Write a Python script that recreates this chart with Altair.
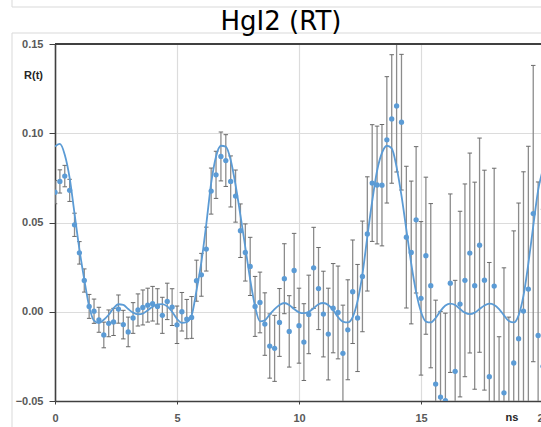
import altair as alt
import pandas as pd

# time grid (ns)
t_ns = [0.0, 0.2, 0.4, 0.6, 0.8, 1.0, 1.2, 1.4, 1.6, 1.8,
        2.0, 2.2, 2.4, 2.6, 2.8, 3.0, 3.2, 3.4, 3.6, 3.8,
        4.0, 4.2, 4.4, 4.6, 4.8, 5.0, 5.2, 5.4, 5.6, 5.8,
        6.0, 6.2, 6.4, 6.6, 6.8, 7.0, 7.2, 7.4, 7.6, 7.8,
        8.0, 8.2, 8.4, 8.6, 8.8, 9.0, 9.2, 9.4, 9.6, 9.8,
        10.0, 10.2, 10.4, 10.6, 10.8, 11.0, 11.2, 11.4, 11.6, 11.8,
        12.0, 12.2, 12.4, 12.6, 12.8, 13.0, 13.2, 13.4, 13.6, 13.8,
        14.0, 14.2, 14.4, 14.6, 14.8, 15.0, 15.2, 15.4, 15.6, 15.8,
        16.0, 16.2, 16.4, 16.6, 16.8, 17.0, 17.2, 17.4, 17.6, 17.8,
        18.0, 18.2, 18.4, 18.6, 18.8, 19.0, 19.2, 19.4, 19.6, 19.8,
        20.0]

# measured R(t)
r_vals = [0.067, 0.073, 0.076, 0.068, 0.0487, 0.033, 0.0175, 0.003, 0.0003, -0.0045,
          -0.013, -0.0065, -0.0057, 0.0015, -0.0072, -0.0113, -0.0035, 0.001, 0.0024, 0.0037,
          0.0045, 0.003, -0.002, 0.0058, 0.0026, -0.0073, 0.0, -0.0041, -0.0032, 0.0174,
          0.0207, 0.0351, 0.0676, 0.0767, 0.087, 0.0847, 0.073, 0.0648, 0.0454, 0.0332,
          0.0254, 0.003, 0.0052, -0.0069, -0.0192, -0.0205, -0.006, 0.0185, -0.011, 0.0231,
          -0.0078, -0.017, -0.0015, 0.0246, 0.013, -0.0013, -0.0125, 0.002, -0.0004, -0.0233,
          -0.0101, 0.0112, -0.0035, 0.0198, 0.0436, 0.0721, 0.071, 0.0709, 0.0963, 0.108,
          0.1153, 0.1062, 0.0418, 0.0332, 0.0515, 0.0075, 0.0314, 0.0146, -0.0405, -0.0478,
          -0.0498, 0.016, -0.0334, 0.0043, 0.0176, 0.0329, 0.0146, 0.0373, 0.0177, -0.0364,
          0.0144, -0.082, -0.0454, -0.075, -0.0287, -0.0151, 0.0004, 0.0127, 0.055, -0.0133,
          -0.0306]

# error bar half-widths
err = [0.0065, 0.0065, 0.006, 0.0062, 0.0065, 0.0063, 0.0065, 0.0067, 0.0068, 0.007,
       0.0072, 0.0075, 0.0076, 0.0079, 0.008, 0.0083, 0.0086, 0.009, 0.0098, 0.0095,
       0.0097, 0.0099, 0.0101, 0.0102, 0.0103, 0.0105, 0.0108, 0.011, 0.0117, 0.0115,
       0.012, 0.0123, 0.0129, 0.0132, 0.0137, 0.0145, 0.0143, 0.0146, 0.015, 0.016,
       0.0163, 0.0168, 0.017, 0.0175, 0.018, 0.0185, 0.019, 0.0196, 0.02, 0.0208,
       0.021, 0.0215, 0.022, 0.0227, 0.023, 0.024, 0.0257, 0.025, 0.026, 0.027,
       0.028, 0.029, 0.03, 0.031, 0.032, 0.0327, 0.033, 0.034, 0.0354, 0.036,
       0.037, 0.038, 0.0397, 0.04, 0.041, 0.043, 0.044, 0.046, 0.047, 0.048,
       0.049, 0.05, 0.051, 0.052, 0.054, 0.056, 0.058, 0.06, 0.0616, 0.064,
       0.066, 0.068, 0.07, 0.072, 0.074, 0.076, 0.078, 0.08, 0.083, 0.086,
       0.088]

# fitted curve
fit_vals = [0.0926, 0.094, 0.088, 0.075, 0.055, 0.035, 0.018, 0.003, -0.005, -0.0063,
            -0.0045, -0.0017, 0.002, 0.0042, 0.0038, 0.0015, -0.0005, -0.0014, -0.001, 0.0008,
            0.0028, 0.0041, 0.0043, 0.003, 0.0, -0.004, -0.0062, -0.0058, -0.002, 0.012,
            0.028, 0.049, 0.072, 0.087, 0.093, 0.0925, 0.085, 0.071, 0.054, 0.036,
            0.018, 0.003, -0.0054, -0.0048, -0.0015, 0.0015, 0.0038, 0.0049, 0.0038, 0.0015,
            -0.0003, -0.0008, 0.0, 0.002, 0.0042, 0.0049, 0.0038, 0.001, -0.003, -0.0055,
            -0.006, -0.003, 0.006, 0.021, 0.042, 0.062, 0.079, 0.089, 0.093, 0.0915,
            0.081, 0.065, 0.046, 0.027, 0.011, 0.0, -0.0055, -0.006, -0.0035, 0.0005,
            0.0035, 0.0046, 0.0038, 0.0015, -0.0005, -0.0013, -0.0005, 0.0015, 0.0035, 0.0045,
            0.0038, 0.0015, -0.002, -0.0052, -0.006, -0.002, 0.009, 0.027, 0.048, 0.068,
            0.08]

x_ticks = [0, 5, 10, 15, 20]
y_ticks = [-0.05, 0.0, 0.05, 0.10, 0.15]

df = pd.DataFrame({"t": t_ns, "r": r_vals, "e": err})
df["lo"] = df["r"] - df["e"]
df["hi"] = df["r"] + df["e"]
fit = pd.DataFrame({"t": t_ns, "c": fit_vals})
one = pd.DataFrame({"a": [0]})

BLUE = "#5B9BD5"
LBL = "Liberation Sans"

xscale = alt.Scale(domain=[0, 20], range=[0, 488], nice=False, zero=False)
yscale = alt.Scale(domain=[-0.05, 0.15], nice=False, zero=False)
xaxis = alt.Axis(values=x_ticks, format="d", title=None, grid=True, labelFlush=False,
                 tickSize=3, labelPadding=8, labelFont=LBL, labelFontSize=11,
                 labelFontWeight="bold", labelColor="#595959")
yaxis = alt.Axis(values=y_ticks, format=".2f", title=None, grid=True, tickSize=6,
                 labelPadding=6, labelFont=LBL, labelFontSize=11,
                 labelFontWeight="bold", labelColor="#595959")

X = alt.X("t:Q", scale=xscale, axis=xaxis)

bars = alt.Chart(df).mark_rule(color="#8c8c8c", strokeWidth=1.3, clip=True).encode(
    x=X, y=alt.Y("lo:Q", scale=yscale, axis=yaxis), y2="hi:Q")
cap_lo = alt.Chart(df).mark_point(shape="M-1,0L1,0", size=20, filled=False,
                                  stroke="#6a6a6a", strokeWidth=1, clip=True, opacity=1).encode(
    x=X, y=alt.Y("lo:Q", scale=yscale, axis=yaxis))
cap_hi = alt.Chart(df).mark_point(shape="M-1,0L1,0", size=20, filled=False,
                                  stroke="#6a6a6a", strokeWidth=1, clip=True, opacity=1).encode(
    x=X, y=alt.Y("hi:Q", scale=yscale, axis=yaxis))
line = alt.Chart(fit).mark_line(color=BLUE, strokeWidth=1.8, interpolate="monotone",
                                clip=True).encode(
    x=X, y=alt.Y("c:Q", scale=yscale, axis=yaxis))
dots = alt.Chart(df).mark_circle(color=BLUE, size=28, opacity=1, clip=True).encode(
    x=X, y=alt.Y("r:Q", scale=yscale, axis=yaxis))

top_border = alt.Chart(one).mark_rule(color="#404040", strokeWidth=2).encode(
    x=alt.value(0), x2=alt.value(488), y=alt.value(0))
frame_left = alt.Chart(one).mark_rule(color="#d9d9d9", strokeWidth=1).encode(
    x=alt.value(-43), y=alt.value(-11), y2=alt.value(383))
frame_top = alt.Chart(one).mark_rule(color="#d9d9d9", strokeWidth=1).encode(
    x=alt.value(-43), x2=alt.value(490), y=alt.value(-11))
prev_bottom = alt.Chart(one).mark_rule(color="#d9d9d9", strokeWidth=1).encode(
    x=alt.value(-43), x2=alt.value(490), y=alt.value(-37))
prev_left = alt.Chart(one).mark_rule(color="#d9d9d9", strokeWidth=1).encode(
    x=alt.value(-43), y=alt.value(-44), y2=alt.value(-37))

title_txt = alt.Chart(one).mark_text(text="HgI2 (RT)", align="center", baseline="alphabetic",
                                     font="DejaVu Sans", fontSize=26, color="black").encode(
    x=alt.value(226), y=alt.value(-14))
rt_label = alt.Chart(one).mark_text(text="R(t)", align="right", baseline="middle",
                                    font=LBL, fontSize=11, fontWeight="bold",
                                    color="#262626").encode(x=alt.value(-12), y=alt.value(32))
ns_label = alt.Chart(one).mark_text(text="ns", align="center", baseline="middle",
                                    font=LBL, fontSize=11, fontWeight="bold",
                                    color="#262626").encode(x=alt.value(457), y=alt.value(374))

chart = alt.layer(
    frame_left, frame_top, prev_bottom, prev_left,
    bars, cap_lo, cap_hi, line, dots, top_border, title_txt, rt_label, ns_label
).properties(
    width=486, height=357,
    autosize=alt.AutoSizeParams(type="none"),
    padding={"left": 55, "top": 44, "right": 0, "bottom": 26},
).configure_view(strokeWidth=0).configure_axis(
    domainColor="#404040", domainWidth=1.6, tickColor="#404040",
    gridColor="#dcdcdc", gridWidth=1.2
)

chart.save("out.html", embed_options={"renderer": "svg", "actions": False})
